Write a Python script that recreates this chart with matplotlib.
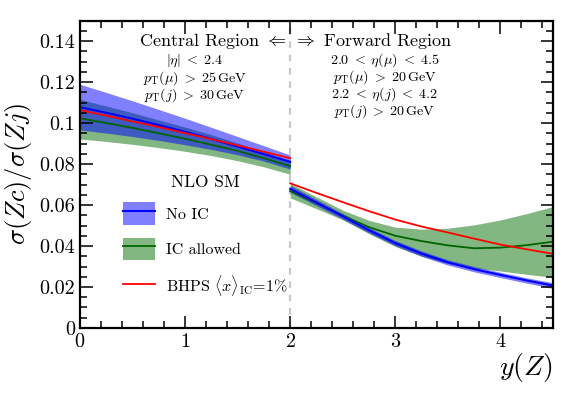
import matplotlib
matplotlib.use("Agg")
import matplotlib.pyplot as plt
from matplotlib.patches import Patch
from matplotlib.lines import Line2D

plt.rcParams["font.family"] = "serif"
plt.rcParams["font.serif"] = ["cmr10", "DejaVu Serif"]
plt.rcParams["mathtext.fontset"] = "cm"
plt.rcParams["axes.formatter.use_mathtext"] = True

# rapidity grid, central and forward regions
rap_central = [0.0, 0.25, 0.5, 0.75, 1.0, 1.25, 1.5, 1.75, 2.0]
rap_forward = [2.0, 2.25, 2.5, 2.75, 3.0, 3.25, 3.5, 3.75, 4.0, 4.25, 4.5]

# No IC (central value and band)
noic_c = [0.1077, 0.1050, 0.1021, 0.0990, 0.0957, 0.0922, 0.0885, 0.0848, 0.0811]
noic_c_hi = [0.1189, 0.1149, 0.1108, 0.1066, 0.1023, 0.0979, 0.0934, 0.0889, 0.0844]
noic_c_lo = [0.0966, 0.0951, 0.0934, 0.0915, 0.0894, 0.0871, 0.0845, 0.0814, 0.0775]
noic_f = [0.0679, 0.0612, 0.0545, 0.0477, 0.0414, 0.0363, 0.0320, 0.0287, 0.0259, 0.0232, 0.0207]
noic_f_hi = [0.0696, 0.0627, 0.0559, 0.0490, 0.0427, 0.0376, 0.0333, 0.0300, 0.0272, 0.0245, 0.0221]
noic_f_lo = [0.0662, 0.0597, 0.0531, 0.0464, 0.0401, 0.0350, 0.0307, 0.0274, 0.0246, 0.0219, 0.0193]

# IC allowed
ic_c = [0.1023, 0.1000, 0.0976, 0.0950, 0.0923, 0.0894, 0.0864, 0.0828, 0.0790]
ic_c_hi = [0.1115, 0.1083, 0.1050, 0.1015, 0.0980, 0.0943, 0.0902, 0.0860, 0.0815]
ic_c_lo = [0.0922, 0.0910, 0.0896, 0.0880, 0.0862, 0.0841, 0.0816, 0.0786, 0.0750]
ic_f = [0.0668, 0.0609, 0.0548, 0.0492, 0.0450, 0.0424, 0.0403, 0.0389, 0.0392, 0.0404, 0.0421]
ic_f_hi = [0.0705, 0.0640, 0.0575, 0.0525, 0.0492, 0.0482, 0.0487, 0.0503, 0.0527, 0.0558, 0.0592]
ic_f_lo = [0.0635, 0.0582, 0.0528, 0.0460, 0.0398, 0.0350, 0.0315, 0.0293, 0.0278, 0.0262, 0.0247]

# BHPS 1%
bhps_c = [0.1063, 0.1036, 0.1008, 0.0980, 0.0951, 0.0921, 0.0891, 0.0860, 0.0828]
bhps_f = [0.0706, 0.0659, 0.0614, 0.0570, 0.0529, 0.0495, 0.0466, 0.0436, 0.0407, 0.0384, 0.0362]

yticks = [0, 0.02, 0.04, 0.06, 0.08, 0.1, 0.12, 0.14]
ytick_labels = ["0", "0.02", "0.04", "0.06", "0.08", "0.1", "0.12", "0.14"]

central_cuts = [r"$|\eta|\;<\;2.4$", r"$p_\mathrm{T}(\mu)\;>\;25\,\mathrm{GeV}$",
                r"$p_\mathrm{T}(j)\;>\;30\,\mathrm{GeV}$"]
forward_cuts = [r"$2.0\;<\;\eta(\mu)\;<\;4.5$", r"$p_\mathrm{T}(\mu)\;>\;20\,\mathrm{GeV}$",
                r"$2.2\;<\;\eta(j)\;<\;4.2$", r"$p_\mathrm{T}(j)\;>\;20\,\mathrm{GeV}$"]

band_green = "#3f913f"

fig = plt.figure(figsize=(5.82, 3.93), dpi=100)
ax = fig.add_axes([0.1375, 0.1654, 0.8125, 0.7824])

for x, lo, hi, mid in [(rap_central, ic_c_lo, ic_c_hi, ic_c), (rap_forward, ic_f_lo, ic_f_hi, ic_f)]:
    ax.fill_between(x, lo, hi, color=band_green, alpha=0.65, lw=0)
    ax.plot(x, mid, color="darkgreen", lw=1.3)
for x, lo, hi, mid in [(rap_central, noic_c_lo, noic_c_hi, noic_c), (rap_forward, noic_f_lo, noic_f_hi, noic_f)]:
    ax.fill_between(x, lo, hi, color="blue", alpha=0.5, lw=0)
    ax.plot(x, mid, color="blue", lw=1.5)
ax.plot(rap_central, bhps_c, color="red", lw=1.3)
ax.plot(rap_forward, bhps_f, color="red", lw=1.3)

ax.axvline(2.0, color="#c8c8c8", ls=(0, (3, 3)), lw=1.6, zorder=0)

ax.set_xlim(0, 4.5)
ax.set_ylim(0, 0.15)
ax.set_xticks([0, 1, 2, 3, 4])
ax.set_xticks([i * 0.2 for i in range(23)], minor=True)
ax.set_yticks(yticks)
ax.set_yticklabels(ytick_labels)
ax.set_yticks([i * 0.005 for i in range(31)], minor=True)
ax.tick_params(which="both", direction="in", top=True, right=True, width=1.1, labelsize=14.5)
ax.tick_params(which="major", length=9)
ax.tick_params(which="minor", length=5)
for s in ax.spines.values():
    s.set_linewidth(1.6)

ax.set_ylabel(r"$\sigma(Zc)/\sigma(Zj)$", fontsize=19, labelpad=4)
ax.set_xlabel(r"$y(Z)$", fontsize=20, loc="right", labelpad=0)

# region headers and cuts
ax.text(1.97, 0.1400, r"Central Region $\Leftarrow$", ha="right", va="center", fontsize=13)
ax.text(2.03, 0.1400, r"$\Rightarrow$ Forward Region", ha="left", va="center", fontsize=13)
for i, t in enumerate(central_cuts):
    ax.text(1.09, 0.1303 - i * 0.0083, t, ha="center", va="center", fontsize=10.2)
for i, t in enumerate(forward_cuts):
    ax.text(2.9, 0.1305 - i * 0.0083, t, ha="center", va="center", fontsize=10.2)

handles = [
    (Patch(facecolor="blue", alpha=0.5, lw=0), Line2D([], [], color="blue", lw=1.5)),
    (Patch(facecolor=band_green, alpha=0.65, lw=0), Line2D([], [], color="darkgreen", lw=1.3)),
    Line2D([], [], color="red", lw=1.3),
]
labels = ["No IC", "IC allowed", r"BHPS $\langle x\rangle_\mathrm{IC}\!=\!1\%$"]
leg = ax.legend(handles, labels, title="NLO SM", loc="upper left", bbox_to_anchor=(0.091, 0.50),
                frameon=False, fontsize=11.5, title_fontsize=12.5, handlelength=2.0,
                handleheight=1.8, labelspacing=0.8, handletextpad=0.7,
                borderpad=0, borderaxespad=0)

fig.savefig("out.png", dpi=100)
